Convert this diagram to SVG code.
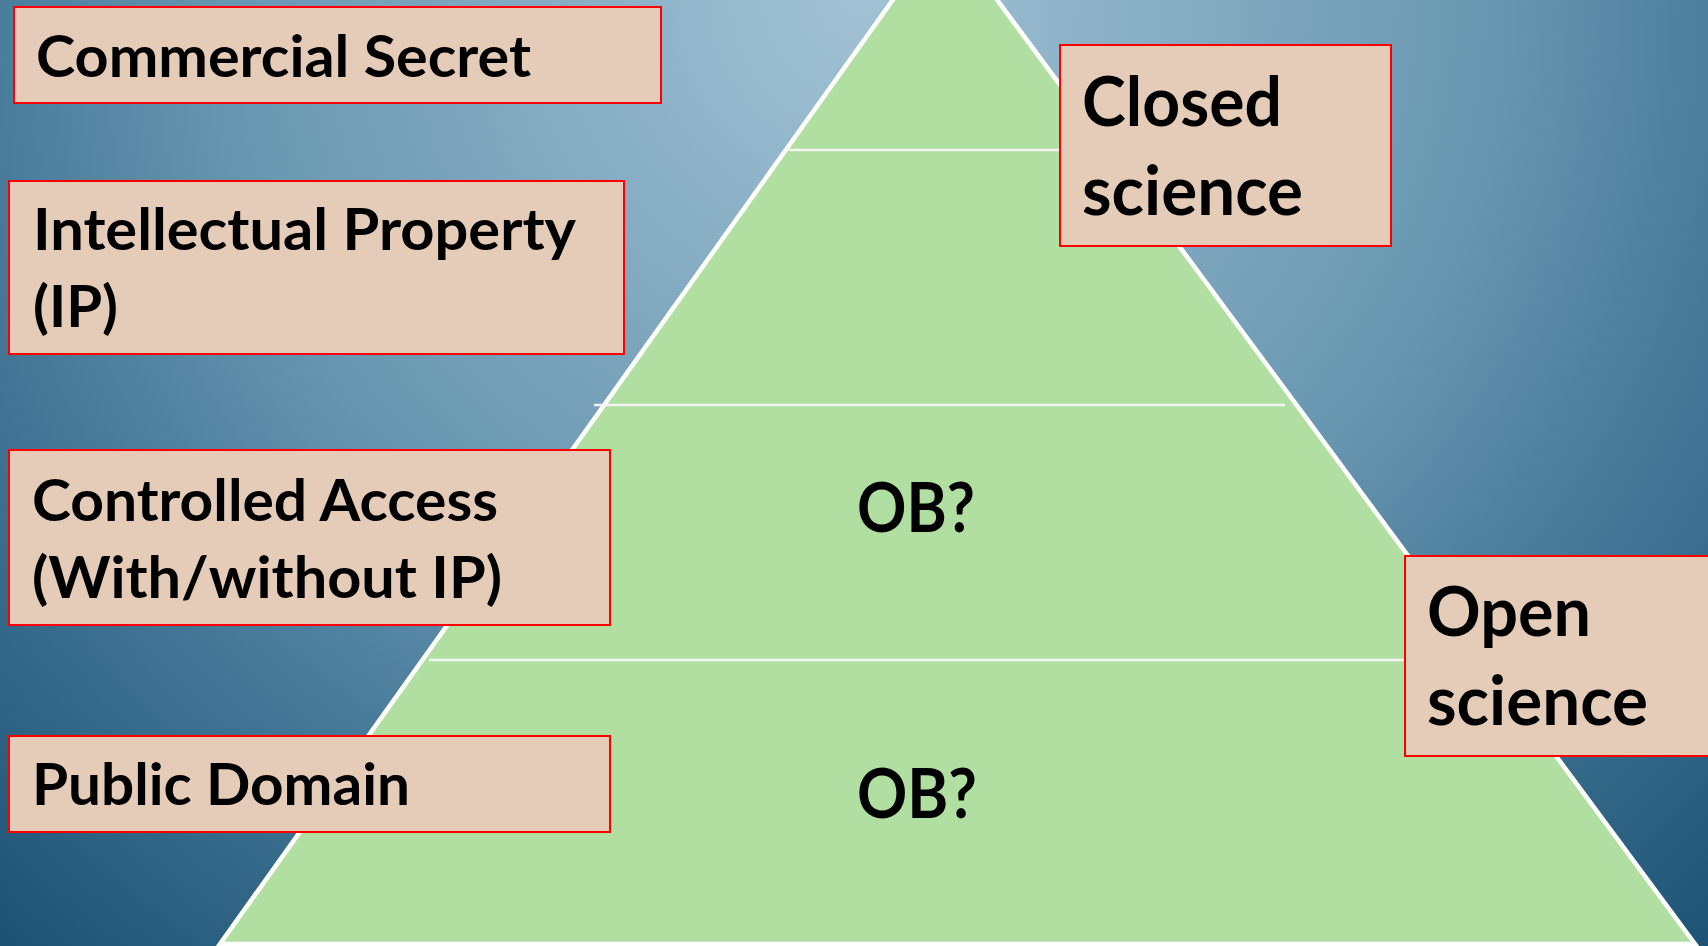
<svg xmlns="http://www.w3.org/2000/svg" width="1708" height="946" viewBox="0 0 1708 946">
  <defs>
    <radialGradient id="bg" gradientUnits="userSpaceOnUse" cx="860" cy="0" r="1280">
      <stop offset="0" stop-color="#A2C2D5"/>
      <stop offset="0.5" stop-color="#6896B0"/>
      <stop offset="0.66" stop-color="#4C7E9D"/>
      <stop offset="1" stop-color="#1B5274"/>
    </radialGradient>
    <style>
      .box { fill: #E5CCB8; stroke: #FF0000; stroke-width: 2; }
      .lbl { font-family: Lato, "Open Sans", "Liberation Sans", sans-serif; font-weight: bold; fill: #000; }
      .s { font-size: 58px; }
      .l { font-size: 68px; }
      .div { stroke: #F4F4F4; stroke-width: 2.5; }
    </style>
  </defs>
  <rect x="0" y="0" width="1708" height="946" fill="url(#bg)"/>

  <g id="pyramid">
    <polygon points="944,-72 1695,944 220,944" fill="#B1DFA2" stroke="#FFFFFF" stroke-width="4.5" stroke-linejoin="miter"/>
  </g>

  <g id="connectors">
    <line class="div" x1="789" y1="150" x2="1110" y2="150"/>
    <line class="div" x1="594" y1="405" x2="1285" y2="405"/>
    <line class="div" x1="429" y1="660" x2="1410" y2="660"/>
  </g>

  <g id="ob-upper">
    <text class="lbl l" x="857" y="532" textLength="118" lengthAdjust="spacingAndGlyphs">OB?</text>
  </g>
  <g id="ob-lower">
    <text class="lbl l" x="857" y="818" textLength="120" lengthAdjust="spacingAndGlyphs">OB?</text>
  </g>

  <g id="commercial-secret">
    <rect class="box" x="14" y="7" width="647" height="96"/>
    <text class="lbl s" x="36" y="77" textLength="495" lengthAdjust="spacingAndGlyphs">Commercial Secret</text>
  </g>

  <g id="intellectual-property">
    <rect class="box" x="9" y="181" width="615" height="173"/>
    <text class="lbl s" x="33" y="250" textLength="543" lengthAdjust="spacingAndGlyphs">Intellectual Property</text>
    <text class="lbl s" x="33" y="327" textLength="85" lengthAdjust="spacingAndGlyphs">(IP)</text>
  </g>

  <g id="controlled-access">
    <rect class="box" x="9" y="450" width="601" height="175"/>
    <text class="lbl s" x="32" y="521" textLength="466" lengthAdjust="spacingAndGlyphs">Controlled Access</text>
    <text class="lbl s" x="32" y="598" textLength="470" lengthAdjust="spacingAndGlyphs">(With/without IP)</text>
  </g>

  <g id="public-domain">
    <rect class="box" x="9" y="736" width="601" height="96"/>
    <text class="lbl s" x="32" y="805" textLength="378" lengthAdjust="spacingAndGlyphs">Public Domain</text>
  </g>

  <g id="closed-science">
    <rect class="box" x="1060" y="45" width="331" height="201"/>
    <text class="lbl l" x="1082" y="126" textLength="200" lengthAdjust="spacingAndGlyphs">Closed</text>
    <text class="lbl l" x="1082" y="215" textLength="221" lengthAdjust="spacingAndGlyphs">science</text>
  </g>

  <g id="open-science">
    <rect class="box" x="1405" y="556" width="320" height="200"/>
    <text class="lbl l" x="1427" y="636" textLength="164" lengthAdjust="spacingAndGlyphs">Open</text>
    <text class="lbl l" x="1427" y="725" textLength="221" lengthAdjust="spacingAndGlyphs">science</text>
  </g>
</svg>
